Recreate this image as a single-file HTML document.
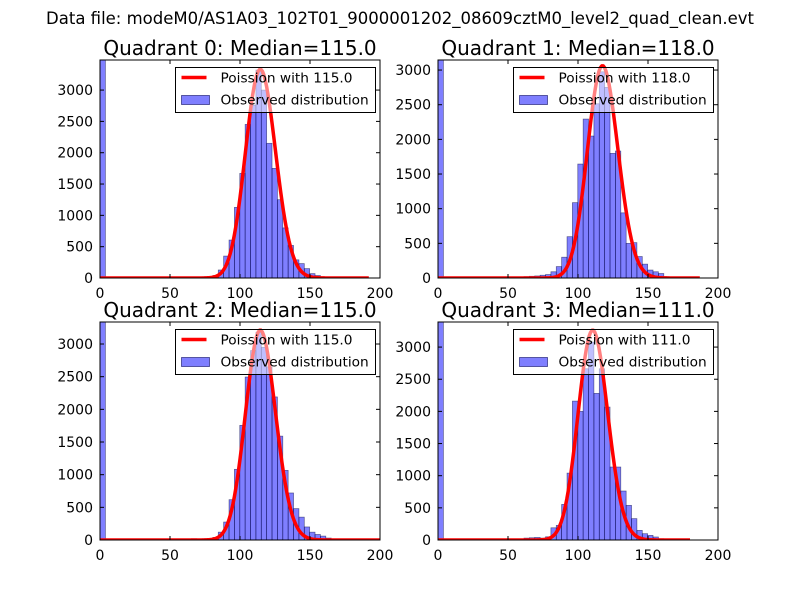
<!DOCTYPE html>
<html><head><meta charset="utf-8"><style>
body{margin:0;background:#fff;width:800px;height:600px;overflow:hidden}
svg text{font-family:"DejaVu Sans","Liberation Sans",sans-serif}
</style></head><body>
<svg id="fig" width="800" height="600" xmlns="http://www.w3.org/2000/svg">
<rect width="800" height="600" fill="#fff"/>
<text x="400" y="24" font-size="16.5" text-anchor="middle">Data file: modeM0/AS1A03_102T01_9000001202_08609cztM0_level2_quad_clean.evt</text>
</svg>
<script>
// Chart data
const medians = [115.0, 118.0, 115.0, 111.0];
const binWidth = 3.84;
const firstBin = [16, 16, 16, 16];
const counts0 = [0,15,10,20,25,40,128,350,606,1128,1670,2452,2760,3320,3000,2150,1750,1250,800,520,290,230,150,70,40,15,10];
const counts1 = [20,25,30,40,50,90,165,300,596,1087,1644,2293,2048,2514,2975,2750,1798,1832,940,500,510,310,200,115,90,65,20];
const counts2 = [15,20,15,20,25,40,120,275,617,1082,1755,2495,2900,3180,2950,2650,2190,1590,1066,720,480,350,200,120,85,60,30,15];
const counts3 = [30,35,40,30,50,190,228,554,1040,2160,2000,2663,3078,2280,2663,2067,1135,1135,762,539,332,150,98,72,47,20];
const zeroBinCounts = [5000, 5000, 5000, 5000];
const curvePeak = [3330, 3060, 3210, 3260];
const curveMax = [192, 187, 200, 180];
const yMaxs = [3480, 3145, 3337, 3390];
const xTicks = [0, 50, 100, 150, 200];
const yTicks = [0, 500, 1000, 1500, 2000, 2500, 3000];
const allCounts = [counts0, counts1, counts2, counts3];

const NS = "http://www.w3.org/2000/svg";
const fig = document.getElementById('fig');
function mk(tag, attrs, parent){const e=document.createElementNS(NS,tag);for(const k in attrs)e.setAttribute(k,attrs[k]);(parent||fig).appendChild(e);return e;}
function lgamma(z){
  let s=0; while(z<7){s-=Math.log(z);z+=1;}
  return s+(z-0.5)*Math.log(z)-z+0.5*Math.log(2*Math.PI)+1/(12*z)-1/(360*z*z*z);
}
const boxes = [[100,60],[438,60],[100,322],[438,322]];
const W=280,H=218;
for(let q=0;q<4;q++){
  const [L,T]=boxes[q];
  const g=mk('g',{});
  
  
  const xs=v=>L+v/200*W;
  const ys=v=>T+H-v/yMaxs[q]*H;
  const cid='clip'+q;
  const cp=mk('clipPath',{id:cid},g); mk('rect',{x:L,y:T,width:W,height:H},cp);
  const inner=mk('g',{'clip-path':'url(#'+cid+')'},g);
  const drawBar=(k,c)=>{
    const x0=xs(k*binWidth),x1=xs((k+1)*binWidth);
    const r=mk('rect',{x:x0,y:ys(c),width:x1-x0,height:ys(0)-ys(c),fill:'rgba(0,0,255,0.5)',stroke:'rgba(0,0,60,0.55)','stroke-width':0.7},inner);
    
    
  };
  drawBar(0,zeroBinCounts[q]);
  allCounts[q].forEach((c,i)=>{ if(c>0) drawBar(firstBin[q]+i,c); });
  const lam=medians[q]; const lp0=lam*Math.log(lam)-lam-lgamma(lam+1);
  let d='';
  for(let x=0;x<=curveMax[q];x+=1){
    const lp=x*Math.log(lam)-lam-lgamma(x+1);
    const v=curvePeak[q]*Math.exp(lp-lp0);
    d+=(x?'L':'M')+xs(x).toFixed(2)+','+ys(v).toFixed(2);
  }
  const line=mk('path',{d:d,fill:'none',stroke:'#ff0000','stroke-width':3.5,'stroke-linejoin':'round'},inner);
  
  

  const lg=mk('g',{},g);
  
  
  const lx=L+75.5, ly=T+7.5;
  mk('rect',{x:lx,y:ly,width:200,height:45,fill:'rgba(255,255,255,0.5)',stroke:'#000','stroke-width':1},lg);
  mk('line',{x1:lx+6,x2:lx+31,y1:ly+10,y2:ly+10,stroke:'#ff0000','stroke-width':3.5},lg);
  const t1=mk('text',{x:lx+45,y:ly+15,'font-size':13.7},lg); t1.textContent='Poission with '+medians[q].toFixed(1);
  mk('rect',{x:lx+6,y:ly+28,width:28,height:9,fill:'rgba(0,0,255,0.5)',stroke:'rgba(0,0,90,0.7)','stroke-width':0.8},lg);
  const t2=mk('text',{x:lx+45,y:ly+37,'font-size':13.7},lg); t2.textContent='Observed distribution';

  mk('rect',{x:L,y:T,width:W,height:H,fill:'none',stroke:'#000','stroke-width':1},g);
  xTicks.forEach(t=>{
    const x=xs(t);
    mk('line',{x1:x,x2:x,y1:T+H,y2:T+H-4,stroke:'#000'},g);
    mk('line',{x1:x,x2:x,y1:T,y2:T+4,stroke:'#000'},g);
    const tx=mk('text',{x:x,y:T+H+20,'font-size':14,'text-anchor':'middle'},g);
    tx.textContent=t;
    
    
  });
  yTicks.forEach(t=>{
    const y=ys(t);
    mk('line',{x1:L,x2:L+4,y1:y,y2:y,stroke:'#000'},g);
    mk('line',{x1:L+W,x2:L+W-4,y1:y,y2:y,stroke:'#000'},g);
    const tx=mk('text',{x:L-7,y:y+5,'font-size':14,'text-anchor':'end'},g);
    tx.textContent=t;
    
    
  });
  const ti=mk('text',{x:L+W/2,y:T-5,'font-size':20,'text-anchor':'middle'},g);
  ti.textContent='Quadrant '+q+': Median='+medians[q].toFixed(1);
  
  
}
</script>
</body></html>
